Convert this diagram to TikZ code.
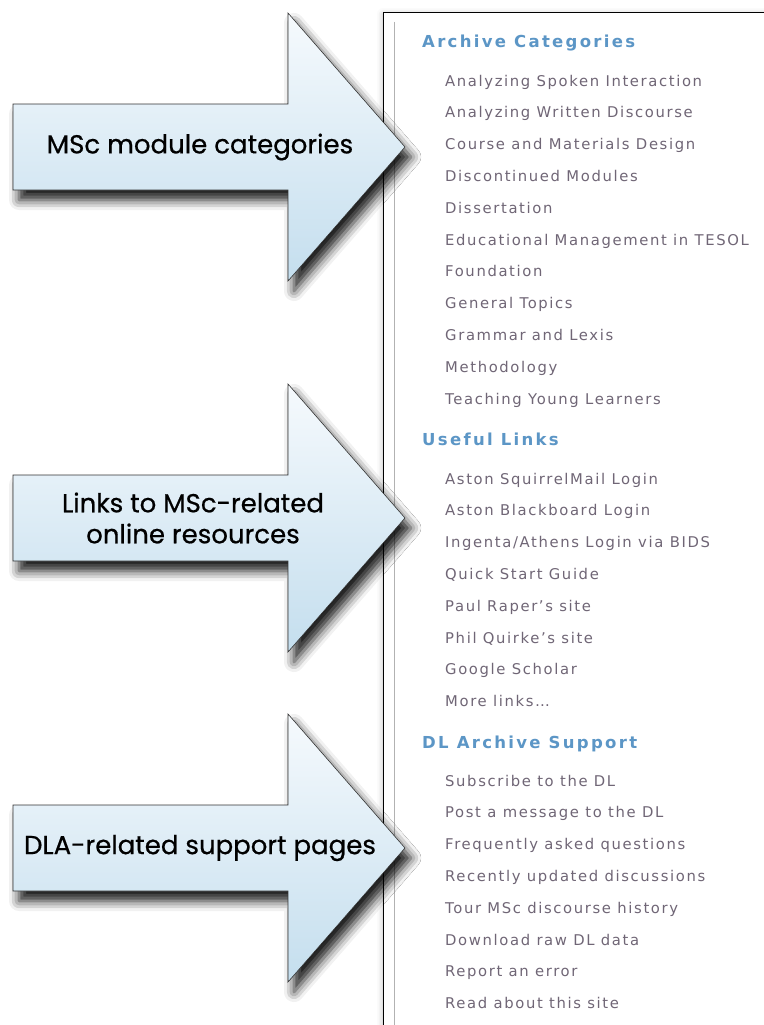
\documentclass[tikz,border=0pt]{standalone}
\usepackage{fontspec}
\usepackage{tikz}
\usetikzlibrary{shadows.blur,positioning,calc}
\usepackage{xcolor}
\newfontfamily\webfont[LetterSpace=11]{DejaVu Sans}
\newfontfamily\webheadfont[LetterSpace=14]{DejaVu Sans}
\newfontfamily\arrowfont[FakeBold=0.6]{Poppins}
\definecolor{dlablue}{RGB}{92,150,198}
\definecolor{dlagrey}{RGB}{112,102,118}
\definecolor{arrowtop}{RGB}{246,250,253}
\definecolor{arrowbottom}{RGB}{196,222,238}
\definecolor{arrowline}{RGB}{50,50,50}

\tikzset{
  panelbox/.style={draw=black, line width=0.8pt, fill=white,
    blur shadow={shadow xshift=0pt, shadow yshift=-2pt, shadow blur radius=6pt, shadow opacity=25}},
  calloutarrow/.style={draw=arrowline, line width=0.6pt, top color=arrowtop, bottom color=arrowbottom,
    blur shadow={shadow xshift=6pt, shadow yshift=-10pt, shadow blur radius=10pt, shadow opacity=90}},
  calloutlabel/.style={font=\arrowfont\fontsize{26}{31}\selectfont, align=center, text=black, inner sep=0pt},
  linkhead/.style={font=\webheadfont\bfseries\fontsize{16.5}{18}\selectfont, text=dlablue, anchor=base west, inner sep=0pt},
  linkitem/.style={font=\webfont\fontsize{14.8}{17}\selectfont, text=dlagrey, anchor=base west, inner sep=0pt}
}

\begin{document}
\begin{tikzpicture}[x=1pt,y=-1pt]
\useasboundingbox (0,0) rectangle (763,1025);

% sidebar panel
\path[panelbox] (383,12) rectangle (790,1060);
\draw[black!30, line width=1pt] (394,22) -- (394,1025);

\node[linkhead] (achead) at (422,48) {Archive Categories};
\foreach \t [count=\i] in {Analyzing Spoken Interaction, Analyzing Written Discourse,
    Course and Materials Design, Discontinued Modules, Dissertation,
    Educational Management in TESOL, Foundation, General Topics,
    Grammar and Lexis, Methodology, Teaching Young Learners}
  \node[linkitem] (ac\i) at (445,{86+(\i-1)*31.8}) {\t};

\node[linkhead] (ulhead) at (422,445) {Useful Links};
\foreach \t [count=\i] in {Aston SquirrelMail Login, Aston Blackboard Login,
    Ingenta/Athens Login via BIDS, Quick Start Guide, Paul Raper’s site,
    Phil Quirke’s site, Google Scholar, More links…}
  \node[linkitem] (ul\i) at (445,{484+(\i-1)*31.8}) {\t};

\node[linkhead] (dlhead) at (422,748) {DL Archive Support};
\foreach \t [count=\i] in {Subscribe to the DL, Post a message to the DL,
    Frequently asked questions, Recently updated discussions,
    Tour MSc discourse history, Download raw DL data,
    Report an error, Read about this site}
  \node[linkitem] (dl\i) at (445,{786+(\i-1)*31.8}) {\t};

% callout arrows
\foreach \t in {147,518,848}
  \path[calloutarrow] (13,{\t-43}) -- (288,{\t-43}) -- (288,{\t-134}) -- (405,\t)
    -- (288,{\t+134}) -- (288,{\t+43}) -- (13,{\t+43}) -- cycle;

\node[calloutlabel] (modules) at (200,147) {MSc module categories};
\node[calloutlabel] (resources) at (193,518) {Links to MSc-related\\online resources};
\node[calloutlabel] (support) at (200,848) {DLA-related support pages};
\end{tikzpicture}
\end{document}
